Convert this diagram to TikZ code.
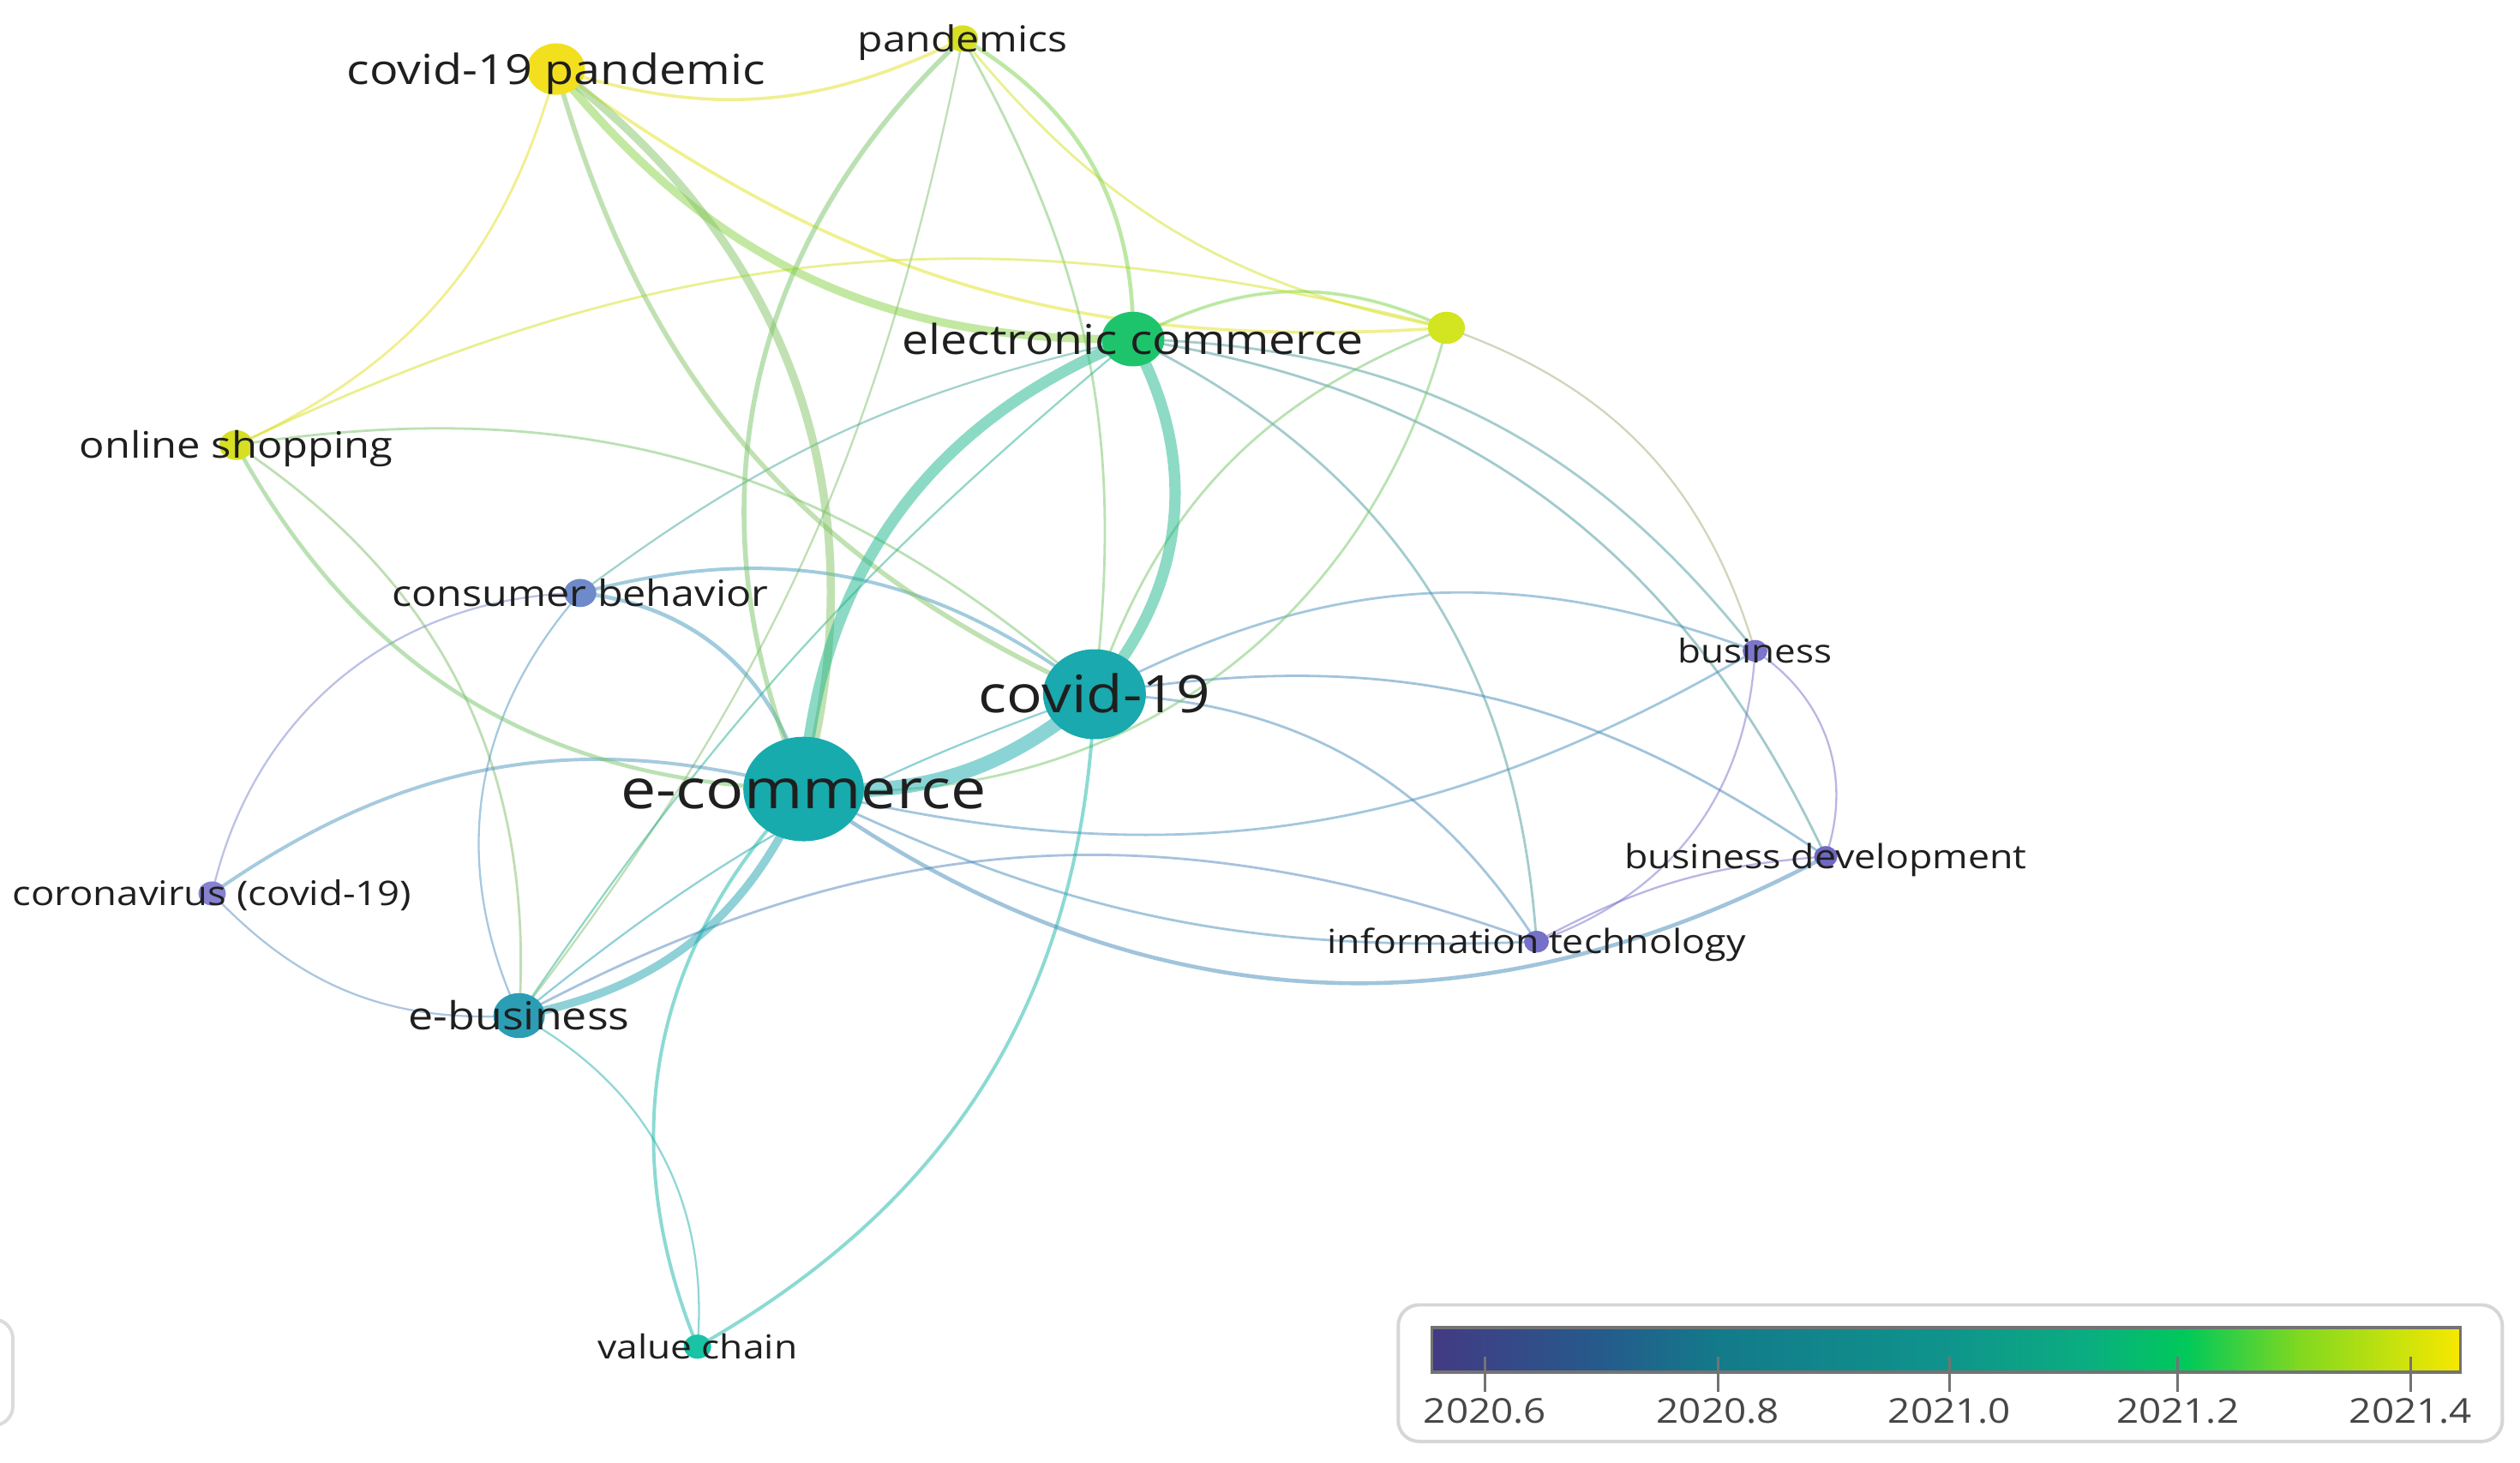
\documentclass[tikz,border=0pt]{standalone}
\usepackage{fontspec}
\setmainfont{Open Sans}[FakeStretch=1.15]
\usetikzlibrary{shapes.geometric}
\definecolor{cCP}{HTML}{F2E01E}
\definecolor{cPD}{HTML}{D8E024}
\definecolor{cEC}{HTML}{1EC46C}
\definecolor{cY}{HTML}{D2E520}
\definecolor{cOS}{HTML}{D6DF22}
\definecolor{cCB}{HTML}{6E8ACB}
\definecolor{cCV}{HTML}{19A9AE}
\definecolor{cEM}{HTML}{17ABAE}
\definecolor{cBU}{HTML}{7B76CC}
\definecolor{cBD}{HTML}{6F69C4}
\definecolor{cIT}{HTML}{7770C8}
\definecolor{cCO}{HTML}{8781CF}
\definecolor{cEB}{HTML}{2B9EB5}
\definecolor{cVC}{HTML}{19C3A5}
\definecolor{g0}{HTML}{433A84}
\definecolor{g1}{HTML}{245C8C}
\definecolor{g2}{HTML}{137A8A}
\definecolor{g3}{HTML}{0F948C}
\definecolor{g4}{HTML}{0AAE80}
\definecolor{g5}{HTML}{00C95A}
\definecolor{g6}{HTML}{80D820}
\definecolor{g7}{HTML}{F8E800}
\newcommand\lnk[4]{\draw[edge, line width=#3, draw=c#1!50!c#2] (#1) to[#4] (#2);}
\newcommand\lab[4]{\node[lbl, font=\fontsize{#2}{#2}\selectfont, yshift=#3] (#1l) at (#1) {#4};}
\begin{document}
\begin{tikzpicture}[x=0.02cm, y=0.02cm,
  edge/.style={opacity=0.5, line cap=round},
  dot/.style={ellipse, inner sep=0pt, draw=none},
  lbl/.style={anchor=base, inner sep=0pt, text=black!88},
  tk/.style={anchor=base, inner sep=0pt, text=black!72, font=\fontsize{12.1}{12.1}\selectfont}]
\useasboundingbox (0,0) rectangle (1568,910);
\fill[white] (0,0) rectangle (1568,910);
\clip (0,0) rectangle (1568,910);

% node positions
\coordinate (CP) at (346,867);
\coordinate (PD) at (599,886);
\coordinate (EC) at (705,699);
\coordinate (Y)  at (900,706);
\coordinate (OS) at (147,633);
\coordinate (CB) at (361,541);
\coordinate (CV) at (681,478);
\coordinate (EM) at (500,419);
\coordinate (BU) at (1092,505);
\coordinate (BD) at (1136,377);
\coordinate (IT) at (956,324);
\coordinate (CO) at (132,354);
\coordinate (EB) at (323,278);
\coordinate (VC) at (434,72);

% edges
\lnk{CP}{PD}{1.1pt}{bend right=22}
\lnk{OS}{CP}{0.85pt}{bend right=25}
\lnk{CP}{Y}{1.1pt}{bend right=20}
\lnk{PD}{CV}{0.85pt}{bend left=18}
\lnk{PD}{Y}{0.85pt}{bend right=20}
\lnk{PD}{EB}{0.7pt}{bend left=13}
\lnk{EC}{Y}{1.1pt}{bend left=27}
\lnk{OS}{Y}{0.85pt}{bend left=20}
\lnk{CB}{EC}{0.7pt}{bend left=12}
\lnk{EC}{BU}{0.85pt}{bend left=25}
\lnk{EC}{BD}{0.85pt}{bend left=28}
\lnk{EC}{IT}{0.85pt}{bend left=30}
\lnk{EM}{IT}{0.85pt}{bend right=14}
\lnk{EM}{BU}{0.85pt}{bend right=22}
\lnk{CV}{BU}{0.85pt}{bend left=24}
\lnk{CV}{BD}{0.85pt}{bend left=22}
\lnk{CV}{IT}{0.85pt}{bend left=28}
\lnk{CV}{Y}{0.85pt}{bend left=25}
\lnk{EM}{Y}{0.85pt}{bend right=40}
\lnk{OS}{CV}{0.85pt}{bend left=25}
\lnk{EB}{CV}{0.7pt}{bend left=10}
\lnk{OS}{EB}{0.85pt}{bend left=30}
\lnk{CB}{CO}{0.7pt}{bend right=38}
\lnk{CB}{EB}{0.7pt}{bend right=33}
\lnk{CO}{EB}{0.7pt}{bend right=25}
\lnk{EB}{VC}{0.7pt}{bend left=33}
\lnk{EB}{IT}{0.85pt}{bend left=24}
\lnk{EB}{EC}{0.7pt}{bend left=8}
\lnk{BU}{BD}{0.7pt}{bend left=38}
\lnk{BU}{IT}{0.7pt}{bend left=34}
\lnk{IT}{BD}{0.7pt}{bend left=12}
\lnk{Y}{BU}{0.7pt}{bend left=27}
\lnk{CO}{EM}{1.2pt}{bend left=25}
\lnk{CB}{CV}{1.2pt}{bend left=26}
\lnk{CV}{VC}{1.2pt}{bend left=29}
\lnk{EM}{VC}{1.2pt}{bend right=33}
\lnk{EM}{BD}{1.4pt}{bend right=32}
\lnk{PD}{EC}{1.4pt}{bend left=30}
\lnk{CB}{EM}{1.4pt}{bend left=35}
\lnk{OS}{EM}{1.4pt}{bend right=30}
\lnk{CP}{CV}{1.7pt}{bend right=25}
\lnk{PD}{EM}{1.7pt}{bend right=35}
\lnk{CP}{EC}{2.9pt}{bend right=26}
\lnk{CP}{EM}{2.9pt}{bend left=34}
\lnk{EM}{EB}{2.9pt}{bend left=28}
\lnk{EC}{CV}{4pt}{bend left=35}
\lnk{EC}{EM}{4pt}{bend right=32}
\lnk{EM}{CV}{5.1pt}{bend right=22}

% nodes
\node[dot, fill=cCP, minimum width=0.72cm, minimum height=0.64cm] (CPn) at (CP) {};
\node[dot, fill=cPD, minimum width=0.38cm, minimum height=0.33cm] (PDn) at (PD) {};
\node[dot, fill=cEC, minimum width=0.78cm, minimum height=0.68cm] (ECn) at (EC) {};
\node[dot, fill=cY, minimum width=0.46cm, minimum height=0.40cm] (Yn) at (Y) {};
\node[dot, fill=cOS, minimum width=0.42cm, minimum height=0.37cm] (OSn) at (OS) {};
\node[dot, fill=cCB, minimum width=0.40cm, minimum height=0.35cm] (CBn) at (CB) {};
\node[dot, fill=cCV, minimum width=1.28cm, minimum height=1.12cm] (CVn) at (CV) {};
\node[dot, fill=cEM, minimum width=1.50cm, minimum height=1.30cm] (EMn) at (EM) {};
\node[dot, fill=cBU, minimum width=0.31cm, minimum height=0.27cm] (BUn) at (BU) {};
\node[dot, fill=cBD, minimum width=0.29cm, minimum height=0.26cm] (BDn) at (BD) {};
\node[dot, fill=cIT, minimum width=0.31cm, minimum height=0.27cm] (ITn) at (IT) {};
\node[dot, fill=cCO, minimum width=0.34cm, minimum height=0.30cm] (COn) at (CO) {};
\node[dot, fill=cEB, minimum width=0.64cm, minimum height=0.56cm] (EBn) at (EB) {};
\node[dot, fill=cVC, minimum width=0.34cm, minimum height=0.30cm] (VCn) at (VC) {};

% labels
\lab{EM}{19.4}{-7.0pt}{e-commerce}
\lab{CV}{18.3}{-6.6pt}{covid-19}
\lab{CP}{14.7}{-5.3pt}{covid-19 pandemic}
\lab{EC}{14.6}{-5.3pt}{electronic commerce}
\lab{PD}{12.7}{-4.6pt}{pandemics}
\lab{OS}{12.9}{-4.6pt}{online shopping}
\lab{CB}{12.8}{-4.6pt}{consumer behavior}
\lab{BU}{11.6}{-4.2pt}{business}
\lab{BD}{11.8}{-4.2pt}{business development}
\lab{IT}{11.8}{-4.2pt}{information technology}
\lab{CO}{12.0}{-4.3pt}{coronavirus (covid-19)}
\lab{EB}{13.7}{-4.9pt}{e-business}
\lab{VC}{11.7}{-4.2pt}{value chain}

% partial box at left edge
\draw[black!14, line width=1.2pt, rounded corners=0.24cm] (-100,23) rectangle (8,89);

% legend
\draw[black!16, line width=1.2pt, rounded corners=0.26cm, fill=white] (870,13) rectangle (1557,98);
\shade[left color=g0, right color=g1] (891,56) rectangle (1000.5,84);
\shade[left color=g1, right color=g2] (1000,56) rectangle (1068.5,84);
\shade[left color=g2, right color=g3] (1068,56) rectangle (1211.5,84);
\shade[left color=g3, right color=g4] (1211,56) rectangle (1300.5,84);
\shade[left color=g4, right color=g5] (1300,56) rectangle (1360.5,84);
\shade[left color=g5, right color=g6] (1360,56) rectangle (1430.5,84);
\shade[left color=g6, right color=g7] (1430,56) rectangle (1531,84);
\draw[black!55, line width=1.1pt] (891,56) rectangle (1531,84);
\foreach \xx/\tt/\nn in {924/2020.6/t1, 1069/2020.8/t2, 1213/2021.0/t3, 1355/2021.2/t4, 1500/2021.4/t5}{
  \draw[black!55, line width=0.9pt] (\xx,66) -- (\xx,44);
  \node[tk, yshift=-4.3pt] (\nn) at (\xx,32) {\tt};
}
\end{tikzpicture}
\end{document}
